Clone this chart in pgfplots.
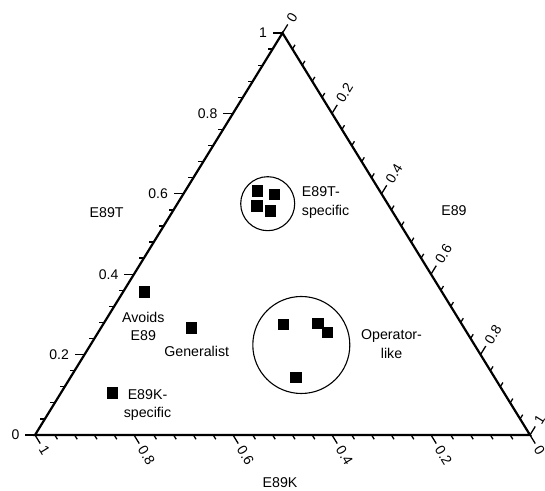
\documentclass[border=0pt]{standalone}
\usepackage{pgfplots}
\pgfplotsset{compat=1.18}
\usepackage{pgfplotstable}
\usepackage{fontspec}
\setmainfont{Liberation Sans}
\usetikzlibrary{calc}

% ternary compositions: t = E89T, e = E89, k = E89K = 1-t-e
\pgfplotstableread{
t      e      k
0.356  0.042  0.602
0.267  0.182  0.551
0.105  0.103  0.792
0.608  0.145  0.247
0.599  0.184  0.217
0.570  0.163  0.267
0.558  0.196  0.246
0.276  0.364  0.360
0.278  0.432  0.290
0.256  0.462  0.282
0.144  0.455  0.401
}\pointsdata

\begin{document}
\begin{tikzpicture}
\begin{axis}[scale only axis, width=545pt, height=490pt,
  xmin=-0.070707, xmax=1.030303, ymin=-0.136816, ymax=1.082090,
  hide axis, clip=false]
\draw[line width=2.2pt, line join=miter] (axis cs:0,0) -- (axis cs:1,0) -- (axis cs:0.5,1) -- cycle;
\addplot[only marks, mark=square*, mark size=5.2pt, black]
  table[x expr=\thisrow{e}+0.5*\thisrow{t}, y=t] {\pointsdata};
\draw[line width=1.1pt] (axis cs:0.4701,0.5754) circle[radius=27pt];
\draw[line width=1.1pt] (axis cs:0.538,0.2239) circle[radius=48.5pt];
\coordinate (BL) at (axis cs:0,0);
\coordinate (BR) at (axis cs:1,0);
\coordinate (T) at (axis cs:0.5,1);
\coordinate (TL) at (rel axis cs:0,1);
\coordinate (SW) at (rel axis cs:0,0);
\coordinate (NE) at (rel axis cs:1,1);
\end{axis}

% ticks
\foreach \i in {0,...,25}{
  \pgfmathsetmacro\f{\i/25}
  \pgfmathtruncatemacro\maj{mod(\i,5)==0 ? 1 : 0}
  \pgfmathsetmacro\L{\maj==1 ? 10 : 5}
  \pgfmathsetmacro\dx{0.5243*\L}
  \pgfmathsetmacro\dy{0.8515*\L}
  \draw[line width=1.3pt] ($(BL)!\f!(BR)$) -- ++(\dx pt,-\dy pt);
  \draw[line width=1.3pt] ($(BL)!\f!(T)$) -- ++(-\L pt,0pt);
  \draw[line width=1.3pt] ($(T)!\f!(BR)$) -- ++(\dx pt,\dy pt);
}

\begin{scope}[font=\fontsize{14}{17}\selectfont]
\foreach \f/\lab in {0/1, 0.2/0.8, 0.4/0.6, 0.6/0.4, 0.8/0.2, 1/0}{
  \node[rotate=-58.4, anchor=west, inner sep=0pt] at ($(BL)!\f!(BR) + (7.34pt,-11.92pt)$) {\lab};
}
\foreach \f/\lab in {0/0, 0.2/0.2, 0.4/0.4, 0.6/0.6, 0.8/0.8, 1/1}{
  \node[anchor=east, inner sep=0pt] at ($(BL)!\f!(T) + (-15.5pt,0pt)$) {\lab};
  \node[rotate=58.4, anchor=west, inner sep=0pt] at ($(T)!\f!(BR) + (7.34pt,11.92pt)$) {\lab};
}
\end{scope}

\begin{scope}[shift={(TL)}, x=1pt, y=-1pt, font=\fontsize{14.2}{18.5}\selectfont]
\node[align=left, anchor=west, inner sep=0pt] at (301.7,202.5) {E89T-\\specific};
\node[align=center, inner sep=0pt] at (391.5,344) {Operator-\\like};
\node[align=center, inner sep=0pt] at (143.3,326.3) {Avoids\\E89};
\node[inner sep=0pt] at (196.7,351) {Generalist};
\node[align=center, inner sep=0pt] at (147.5,405) {E89K-\\specific};
\node[inner sep=0pt] at (106.7,212.5) {E89T};
\node[inner sep=0pt] at (454,211) {E89};
\node[inner sep=0pt] at (280,482.5) {E89K};
\end{scope}

\pgfresetboundingbox
\useasboundingbox (SW) rectangle (NE);
\end{tikzpicture}
\end{document}
